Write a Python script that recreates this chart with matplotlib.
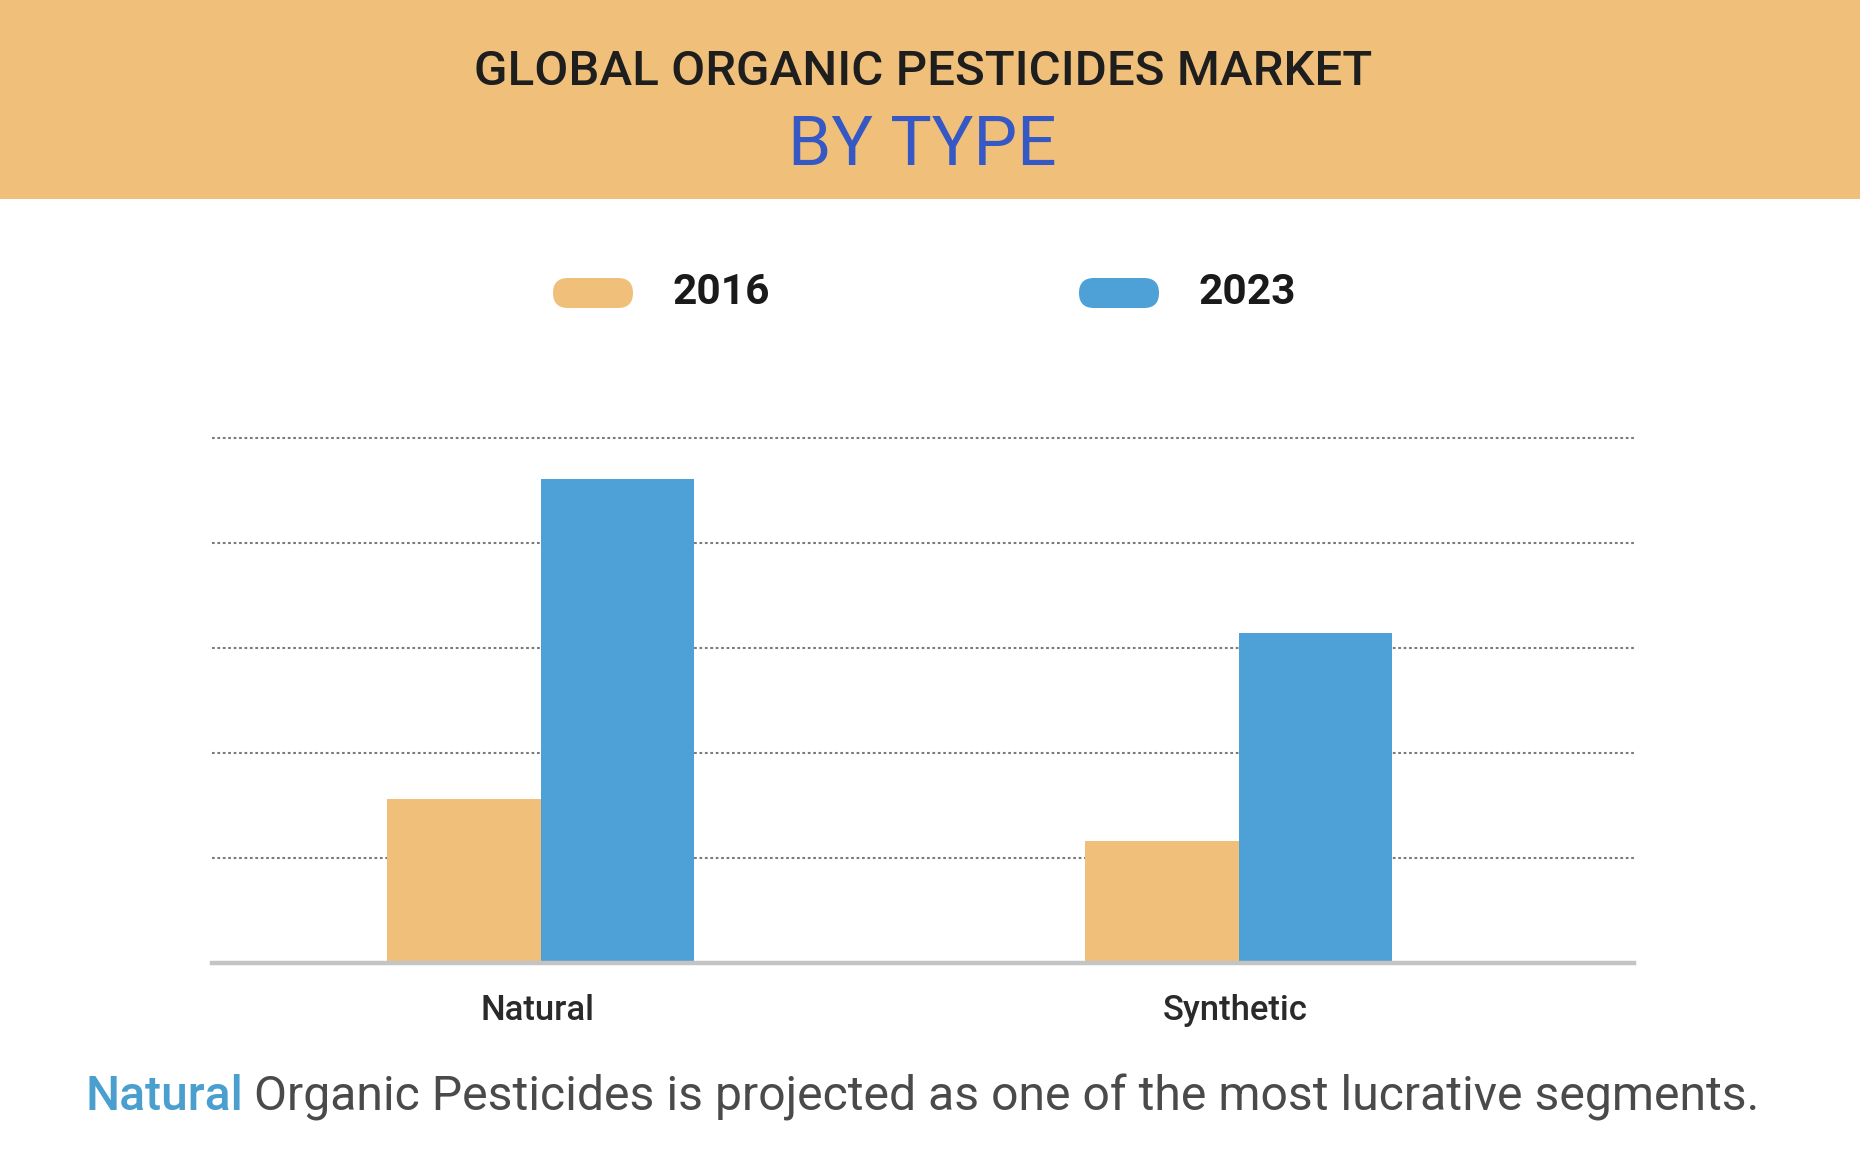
import numpy as np
import matplotlib.pyplot as plt
from matplotlib.patches import FancyBboxPatch, Rectangle

# data (arbitrary units, gridline step = 1)
categories = ['Natural', 'Synthetic']
years = ['2016', '2023']
values_2016 = [1.56, 1.16]
values_2023 = [4.61, 3.14]

orange = '#F0C07A'
blue = '#4EA1D6'
title_blue = '#3558C4'

W, H = 1860, 1156
fig = plt.figure(figsize=(W / 100, H / 100), dpi=100)
fig.patch.set_facecolor('white')

# background axes in pixel coordinates for header, legend and footer
bg = fig.add_axes([0, 0, 1, 1])
bg.set_xlim(0, W)
bg.set_ylim(H, 0)
bg.axis('off')
bg.add_patch(Rectangle((0, 0), W, 199, color=orange, lw=0))
bg.text(W / 2 - 7, 72, 'GLOBAL ORGANIC PESTICIDES MARKET', ha='center', va='center',
        fontsize=35.5, fontfamily='Roboto', fontweight='medium', color='#1e1e1e')
bg.text(W / 2 - 8, 146, 'BY TYPE', ha='center', va='center',
        fontsize=50, fontfamily='Roboto', color=title_blue)

# legend pills
for (x0, tx), col, lab in zip([(553, 672), (1079, 1198)], [orange, blue], years):
    bg.add_patch(FancyBboxPatch((x0, 278), 80, 30,
                                boxstyle='round,pad=0,rounding_size=15',
                                color=col, lw=0))
    bg.text(tx, 293, lab, ha='left', va='center', fontsize=30.5,
            fontfamily='Roboto', fontweight='bold', color='#1a1a1a')

# footer with coloured first word
fig.canvas.draw()
r = fig.canvas.get_renderer()
t1 = bg.text(85, 1097, 'Natural', ha='left', va='center', fontsize=34.7,
             fontfamily='Roboto', fontweight='medium', color='#4A9FCF')
bb = t1.get_window_extent(renderer=r)
x_end = bg.transData.inverted().transform((bb.x1, bb.y0))[0]
bg.text(x_end + 11, 1097, 'Organic Pesticides is projected as one of the most lucrative segments.',
        ha='left', va='center', fontsize=34.7, fontfamily='Roboto', color='#4a4a4a')

# main chart
ax = fig.add_axes([212 / W, (H - 963) / H, (1634 - 212) / W, (963 - 427.5) / H])
ax.set_facecolor('none')
x = np.arange(len(categories))
bw = 0.22
ax.bar(x - bw / 2, values_2016, bw, color=orange, zorder=3)
ax.bar(x + bw / 2, values_2023, bw, color=blue, zorder=3)
ax.set_xlim(-0.471, 1.566)
ax.set_ylim(0, 5.1)
for y in range(1, 6):
    ax.axhline(y, color='#7a7a7a', lw=1.5, ls=(0, (1.3, 1.3)), zorder=1)
ax.axhline(0, color='#c4c4c4', lw=3.2, zorder=4, clip_on=False)
for s in ax.spines.values():
    s.set_visible(False)
ax.set_yticks([])
ax.set_xticks(x - 0.005)
ax.set_xticklabels(categories, fontsize=25, fontfamily='Roboto', fontweight='medium', color='#2a2a2a')
ax.tick_params(axis='x', length=0, pad=22)

fig.savefig('out.png', dpi=100)
